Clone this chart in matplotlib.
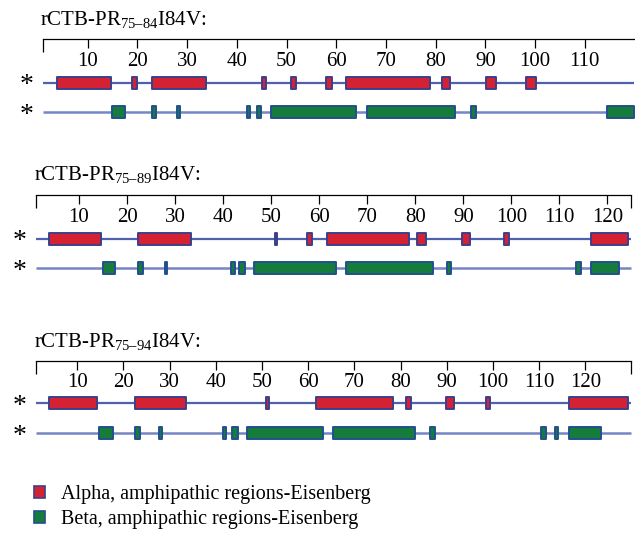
import matplotlib
matplotlib.use('Agg')
import matplotlib.pyplot as plt
from matplotlib.patches import Patch

plt.rcParams['font.family'] = ['Liberation Serif', 'DejaVu Serif']
plt.rcParams['mathtext.fontset'] = 'custom'
plt.rcParams['mathtext.rm'] = 'Liberation Serif'

# construct names (subscript part) and sequence lengths
subs = ['75\u201384', '75\u201389', '75\u201394']
lengths = [120, 125, 130]
ticks = [list(range(10, 120, 10)), list(range(10, 130, 10)), list(range(10, 130, 10))]

# amphipathic regions, (start, end) along the sequence
alpha_84 = [(3.8, 14.7), (18.9, 19.9), (22.9, 33.8), (45.0, 45.9), (51.0, 52.0),
            (58.0, 59.1), (62.0, 78.9), (81.2, 82.9), (90.1, 92.2), (98.1, 100.3)]
beta_84 = [(14.8, 17.6), (22.9, 23.8), (28.0, 28.6), (42.1, 42.7), (44.0, 44.9),
           (46.8, 64.0), (66.1, 84.0), (87.2, 88.1), (114.4, 120.0)]

alpha_89 = [(3.8, 14.6), (22.3, 33.4), (50.7, 51.3), (57.5, 58.6), (61.6, 78.6),
            (80.4, 82.3), (89.7, 91.5), (98.5, 99.6), (116.5, 124.4)]
beta_89 = [(14.9, 17.4), (22.3, 23.4), (27.8, 28.4), (41.6, 42.5), (43.4, 44.5),
           (46.5, 63.6), (65.6, 83.6), (86.7, 87.4), (113.4, 114.5), (116.5, 122.5)]

alpha_94 = [(3.9, 14.3), (22.6, 33.5), (50.8, 51.5), (61.6, 78.4), (81.2, 82.3),
            (89.8, 91.6), (98.4, 99.4), (116.4, 129.3)]
beta_94 = [(14.6, 17.7), (22.6, 23.6), (27.8, 28.4), (41.6, 42.3), (43.6, 44.7),
           (46.7, 63.3), (65.4, 83.2), (86.4, 87.5), (110.4, 111.4), (113.5, 114.2),
           (116.4, 123.5)]

alphas = [alpha_84, alpha_89, alpha_94]
betas = [beta_84, beta_89, beta_94]

red, red_edge = '#d42232', '#3d3f8c'
green, green_edge = '#167c3c', '#22508e'

W, H = 635, 533
fig = plt.figure(figsize=(W / 100, H / 100), dpi=100)

# background axes in pixel units for the text
bg = fig.add_axes([0, 0, 1, 1])
bg.set_xlim(0, W)
bg.set_ylim(H, 0)
bg.axis('off')

# layout of each panel (pixels): x of residue 0, px per residue, title, ruler, rows
x0 = [38.0, 31.0, 31.1]
scale = [4.97, 4.803, 4.618]
title_x = [40, 34, 34]
title_y = [25, 180.7, 347]
ruler_y = [39.3, 195, 360.7]
alpha_y = [82.5, 238.5, 403.3]
beta_y = [112, 268, 433]
star_x = [27, 20, 19.5]
bar_h = 12

for i in range(3):
    L = lengths[i]
    ax = fig.add_axes([0, 0, 1, 1], facecolor='none')
    ax.set_xlim(-x0[i] / scale[i], (W - x0[i]) / scale[i])
    ax.set_ylim(H, 0)
    for s in ['top', 'left', 'right']:
        ax.spines[s].set_visible(False)
    ax.spines['bottom'].set_position(('data', ruler_y[i]))
    ax.spines['bottom'].set_bounds(1, L)
    ax.spines['bottom'].set_linewidth(0.9)
    ax.set_yticks([])
    ax.set_xticks(ticks[i])
    ax.set_xticks([1, L] if i > 0 else [1], minor=True)
    ax.tick_params(axis='x', which='major', length=6.5, width=0.9, pad=2.5,
                   labelsize=15, direction='out')
    ax.tick_params(axis='x', which='minor', length=9, width=0.9, direction='out')

    ax.hlines(alpha_y[i], 1, L, color='#5062ad', lw=1.6, zorder=1)
    ax.hlines(beta_y[i], 1, L, color='#7585c5', lw=1.8, zorder=1)

    a = alphas[i]
    b = betas[i]
    ax.broken_barh([(s, e - s) for s, e in a], (alpha_y[i] - bar_h / 2, bar_h),
                   facecolors=red, edgecolors=red_edge, linewidth=1.4, zorder=2)
    ax.broken_barh([(s, e - s) for s, e in b], (beta_y[i] - bar_h / 2, bar_h),
                   facecolors=green, edgecolors=green_edge, linewidth=1.4, zorder=2)

    bg.text(title_x[i], title_y[i], r'rCTB-PR$_{\mathregular{' + subs[i] + r'}}$I84V:',
            fontsize=15, va='baseline', ha='left')
    for yy in [alpha_y[i], beta_y[i]]:
        bg.text(star_x[i], yy + 10, '*', fontsize=20, ha='center', va='baseline')

handles = [Patch(facecolor=red, edgecolor=red_edge, linewidth=1.2,
                 label='Alpha, amphipathic regions-Eisenberg'),
           Patch(facecolor=green, edgecolor=green_edge, linewidth=1.2,
                 label='Beta, amphipathic regions-Eisenberg')]
fig.legend(handles=handles, loc='upper left', bbox_to_anchor=(34, 485),
           bbox_transform=bg.transData, frameon=False, fontsize=14.5,
           handlelength=0.55, handleheight=0.6, handletextpad=0.8,
           labelspacing=0.3, borderpad=0, borderaxespad=0)

fig.savefig('out.png', dpi=100)
